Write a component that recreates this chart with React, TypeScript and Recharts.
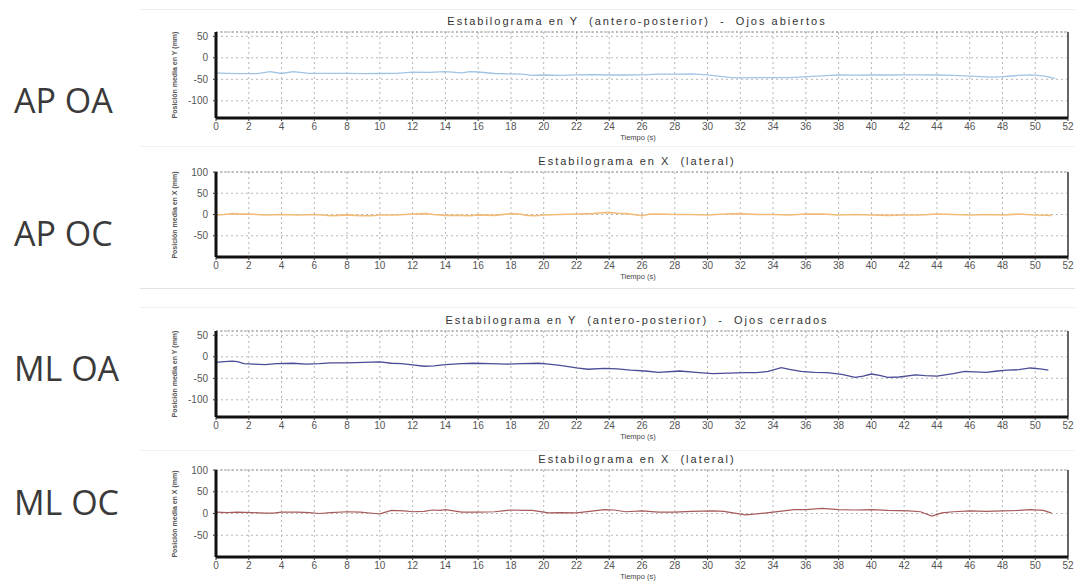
import React from 'react';
import { LineChart, Line, XAxis, YAxis, CartesianGrid, ReferenceLine } from 'recharts';

const xTicks = [0, 2, 4, 6, 8, 10, 12, 14, 16, 18, 20, 22, 24, 26, 28, 30, 32, 34, 36, 38, 40, 42, 44, 46, 48, 50, 52];
const yTicksAP = [-100, -50, 0, 50];
const yTicksML = [-50, 0, 50, 100];
const yDomainAP: [number, number] = [-140, 60];
const yDomainML: [number, number] = [-100, 100];

const rowLabels = ['AP OA', 'AP OC', 'ML OA', 'ML OC'];
const titles = [
  'Estabilograma en Y  (antero-posterior)  -  Ojos abiertos',
  'Estabilograma en X  (lateral)',
  'Estabilograma en Y  (antero-posterior)  -  Ojos cerrados',
  'Estabilograma en X  (lateral)',
];
const yLabels = [
  'Posición media en Y (mm)',
  'Posición media en X (mm)',
  'Posición media en Y (mm)',
  'Posición media en X (mm)',
];
const xLabel = 'Tiempo (s)';

// [time (s), position (mm)]
const apOA: [number, number][] = [
  [0, -35], [0.7, -36], [1.5, -37], [2.5, -37], [3.3, -32], [4, -36.5], [4.7, -32], [5.7, -36], [6.5, -36], [8, -36],
  [9, -37], [10, -36.5], [11, -36], [12, -33.5], [13, -34], [14, -32], [15, -35], [15.5, -32], [16, -33], [17, -36.5],
  [18.7, -38], [19.3, -41], [20, -40], [21, -41], [22, -39.5], [23, -39], [24, -40], [25, -40], [26, -39.5], [27, -38],
  [28, -38], [29, -37.5], [30, -39.5], [31.3, -45.5], [32, -46.5], [33, -46], [34, -46], [35, -46], [36.7, -42.5], [37.5, -41],
  [38, -40], [39, -40.5], [40, -40], [41, -40], [42, -39.5], [43, -39.5], [44, -40], [45, -41], [46.7, -44], [47.3, -45],
  [48, -44], [49, -41], [49.7, -39.5], [50.5, -42], [51.2, -48],
];

const apOC: [number, number][] = [
  [0, -1], [0.5, 0], [1, 2], [1.5, 1], [2, 1], [2.5, 0], [3, -1], [4, 0], [5, -1], [6, 0], [6.5, -1], [7, -3], [7.5, -2],
  [8, -1], [8.5, -2], [9, -3], [9.5, -3], [10, -1], [11, -1], [12, 1], [12.8, 2], [13.3, 0], [14, -2], [15, -2], [15.5, -3],
  [16, -1], [17, -2], [18, 2], [18.5, 1], [19, -2], [19.5, -3], [20, -1], [21, 0], [22, 1], [23, 2], [23.5, 4], [24, 5],
  [24.5, 3], [25, 2], [25.5, 0], [26, -3], [26.5, 1], [27, 1], [28, 0], [29, 0], [30, -1], [31, 1], [32, 2], [33, 0],
  [34, 0], [35, -1], [36, 1], [37, 1], [38, -1], [39, 0], [40, -1], [41, -2], [42, -1], [43, -1], [44, 1], [45, 0],
  [46, -1], [47, 0], [48, -1], [49, 1], [50, -1], [51, -2],
];

const mlOA: [number, number][] = [
  [0, -13], [0.5, -11], [1, -10], [1.3, -11], [1.7, -16], [2.3, -17], [3, -18], [3.7, -16], [4.7, -15], [5.5, -17],
  [6.3, -16], [7, -14], [8, -14], [9, -13], [10, -12], [10.7, -15], [11.3, -16], [12, -19], [12.7, -22], [13.3, -21],
  [14, -18], [15, -16], [15.7, -15], [16.7, -16], [17.7, -17], [18.7, -16], [19.7, -15], [20.3, -17], [21, -20], [22, -26],
  [22.7, -29], [23.7, -27], [24.5, -28], [25.3, -31], [26.2, -33], [27, -36], [28.3, -33], [29.3, -36], [30.3, -39], [31.3, -38],
  [32.3, -37], [33, -37], [33.7, -34], [34.5, -25], [35, -29], [35.7, -34], [36.5, -36], [37.3, -37], [38.2, -41], [39, -48],
  [39.5, -45], [40, -40], [40.5, -43], [41, -48], [41.7, -47], [42.7, -42], [43.3, -44], [44, -45], [44.5, -42], [45, -39],
  [45.7, -34], [46.3, -35], [47, -36], [47.7, -33], [48.3, -31], [49, -30], [49.7, -26], [50.3, -28], [50.8, -31],
];

const mlOC: [number, number][] = [
  [0, 3], [0.7, 2], [1.3, 3], [2.2, 2], [3, 1], [3.5, 1], [4, 3], [5, 3], [5.7, 2], [6.3, 0], [7, 2], [8, 4], [8.8, 3],
  [9.7, 0], [10, -1], [10.7, 7], [11.5, 6], [12, 4], [12.7, 5], [13.2, 8], [13.7, 7], [14, 9], [14.5, 6], [15, 3], [16, 3],
  [17, 4], [17.5, 6], [18, 8], [18.7, 7], [19.3, 7], [20, 3], [20.3, 1.5], [21, 2], [22, 1.5], [22.8, 5], [23.7, 9],
  [24.3, 8], [25, 4], [26, 6], [27, 3], [28, 3], [29, 5], [30.3, 6], [31, 5], [32.3, -3], [33, -1], [34, 3], [35.3, 9],
  [36, 9], [37, 12], [38, 9], [39, 8], [40, 9], [41, 7], [42.3, 6], [43, 4], [43.7, -6], [44.3, 1.5], [45, 4], [46, 6],
  [47, 5], [48, 6], [49, 7], [49.7, 9], [50.5, 7], [51, 1],
];

const FONT = '"Liberation Sans", Arial, sans-serif';

type PanelProps = {
  plotTop: number;
  plotHeight: number;
  series: [number, number][];
  color: string;
  width: number;
  domain: [number, number];
  yTicks: number[];
  title: string;
  yLabel: string;
  sideLabel: string;
  sideY: number;
};

function Panel(p: PanelProps) {
  const data = p.series.map(([t, v]) => ({ t, v }));
  const chartTop = p.plotTop - 22;
  const chartHeight = p.plotHeight + 22 + 28;
  const plotLeft = 216;
  const plotRight = 1068;
  const plotBottom = p.plotTop + p.plotHeight;
  return (
    <>
      <div
        style={{
          position: 'absolute', left: 14, top: p.sideY - 24, height: 48, lineHeight: '48px',
          fontFamily: '"Open Sans", sans-serif', fontSize: 34, color: '#3a3a3a', whiteSpace: 'nowrap',
        }}
      >
        {p.sideLabel}
      </div>
      <div
        style={{
          position: 'absolute', left: plotLeft - 20, width: plotRight - plotLeft + 30, top: p.plotTop - 18, height: 14,
          lineHeight: '14px', textAlign: 'center', fontFamily: FONT, fontSize: 11, letterSpacing: 2,
          color: '#333', whiteSpace: 'pre',
        }}
      >
        {p.title}
      </div>
      <div
        style={{
          position: 'absolute', left: 175 - 60, top: p.plotTop + p.plotHeight / 2 - 5, width: 120, height: 10,
          lineHeight: '10px', textAlign: 'center', fontFamily: FONT, fontSize: 7, fontWeight: 'bold',
          color: '#555', transform: 'rotate(-90deg)', whiteSpace: 'nowrap',
        }}
      >
        {p.yLabel}
      </div>
      <div
        style={{
          position: 'absolute', left: 638 - 40, top: plotBottom + 15, width: 80, height: 10, lineHeight: '10px',
          textAlign: 'center', fontFamily: FONT, fontSize: 7.5, color: '#444', whiteSpace: 'nowrap',
        }}
      >
        {xLabel}
      </div>
      <div style={{ position: 'absolute', left: 160, top: chartTop, width: 915, height: chartHeight }}>
        <LineChart width={915} height={chartHeight} data={data} margin={{ top: 22, right: 7, left: 16, bottom: 0 }}>
          <CartesianGrid stroke="#b5b5b5" strokeDasharray="2 3" />
          <XAxis
            dataKey="t" type="number" domain={[0, 52]} ticks={xTicks} interval={0} height={28}
            tick={{ fontSize: 10, fill: '#555', fontFamily: FONT }} tickSize={3} tickMargin={2}
            axisLine={{ stroke: '#111', strokeWidth: 3 }} tickLine={{ stroke: '#333' }} allowDataOverflow
          />
          <YAxis
            type="number" domain={p.domain} ticks={p.yTicks} interval={0} width={40}
            tick={{ fontSize: 10, fill: '#555', fontFamily: FONT }} tickSize={3} tickMargin={5}
            axisLine={{ stroke: '#111', strokeWidth: 3 }} tickLine={{ stroke: '#333' }} allowDataOverflow
          />
          <ReferenceLine x={52} stroke="#666" strokeWidth={2} />
          <ReferenceLine y={p.domain[1]} stroke="#999" strokeDasharray="2 2" />
          <Line
            dataKey="v" type="linear" stroke={p.color} strokeWidth={p.width} dot={false}
            isAnimationActive={false}
          />
        </LineChart>
      </div>
    </>
  );
}

export default function App() {
  return (
    <div style={{ position: 'absolute', left: 0, top: 0, width: 1075, height: 584, background: '#fff', overflow: 'hidden' }}>
      <div style={{ position: 'absolute', left: 140, top: 9, width: 935, height: 1, background: '#eeeeee' }} />
      <div style={{ position: 'absolute', left: 140, top: 146, width: 935, height: 1, background: '#f2f2f2' }} />
      <div style={{ position: 'absolute', left: 140, top: 288, width: 935, height: 1, background: '#e2e2e2' }} />
      <div style={{ position: 'absolute', left: 140, top: 307, width: 935, height: 1, background: '#efefef' }} />
      <div style={{ position: 'absolute', left: 140, top: 450, width: 935, height: 1, background: '#f2f2f2' }} />
      <Panel plotTop={32} plotHeight={86} series={apOA} color="#9fc4e4" width={1.3} domain={yDomainAP}
        yTicks={yTicksAP} title={titles[0]} yLabel={yLabels[0]} sideLabel={rowLabels[0]} sideY={100} />
      <Panel plotTop={172} plotHeight={85} series={apOC} color="#f2bc78" width={1.6} domain={yDomainML}
        yTicks={yTicksML} title={titles[1]} yLabel={yLabels[1]} sideLabel={rowLabels[1]} sideY={233} />
      <Panel plotTop={331} plotHeight={86} series={mlOA} color="#4b4b96" width={1.3} domain={yDomainAP}
        yTicks={yTicksAP} title={titles[2]} yLabel={yLabels[2]} sideLabel={rowLabels[2]} sideY={368} />
      <Panel plotTop={470} plotHeight={87} series={mlOC} color="#a85a5a" width={1.2} domain={yDomainML}
        yTicks={yTicksML} title={titles[3]} yLabel={yLabels[3]} sideLabel={rowLabels[3]} sideY={502} />
    </div>
  );
}
